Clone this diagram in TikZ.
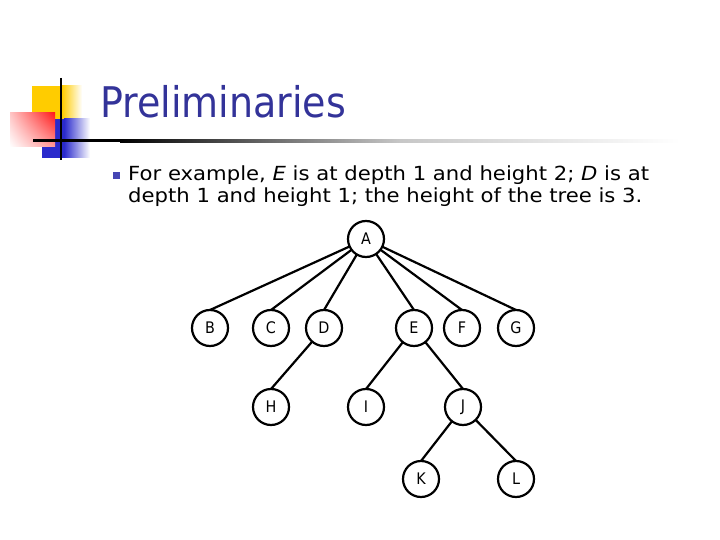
\documentclass[tikz,border=0pt]{standalone}
\usepackage{fontspec}
\setmainfont{DejaVu Sans}[FakeStretch=0.9]
\newfontfamily\bodyfont{DejaVu Sans}[FakeStretch=1.09]
\usetikzlibrary{positioning,shadings}
\definecolor{TitleNavy}{HTML}{333399}
\definecolor{BulletBlue}{HTML}{4646B4}
\definecolor{LogoYellow}{HTML}{FFCC00}
\definecolor{LogoRed}{HTML}{FF1A1A}
\definecolor{LogoBlue}{HTML}{2A2ACC}
\tikzset{
  treenode/.style={circle, draw=black, line width=2.2bp, minimum size=36bp, inner sep=0pt, outer sep=0pt, font=\fontsize{16}{16}\selectfont},
  treeline/.style={line width=2.2bp, draw=black},
  titletext/.style={anchor=base west, inner sep=0pt, text=TitleNavy, font=\fontsize{42.4}{42.4}\selectfont},
  bodytext/.style={anchor=base west, inner sep=0pt, font=\bodyfont\fontsize{19.5}{22}\selectfont},
  bulletsq/.style={fill=BulletBlue, minimum size=7bp, inner sep=0pt}
}

\begin{document}
\begin{tikzpicture}[x=1bp, y=-1bp]
  \useasboundingbox (0,0) rectangle (720,540);
  % logo squares
  \fill[LogoYellow] (32,86) rectangle (62,120);
  \shade[left color=LogoYellow, right color=white] (62,86) rectangle (82,120);
  \fill[LogoBlue] (42,119) rectangle (64,158);
  \shade[left color=LogoBlue, right color=white] (64,119) rectangle (90,158);
  \shade[upper left=LogoRed!25, upper right=LogoRed, lower left=white, lower right=LogoRed!45] (10,113) rectangle (55,147);
  \draw[line width=2.5bp] (61,78) -- (61,160);
  % title rule
  \fill[black] (33,139.5) rectangle (120,142.5);
  \shade[left color=black, right color=black!22] (120,139.5) rectangle (400,142.5);
  \shade[left color=black!22, right color=white] (400,139.5) rectangle (680,142.5);

  \node[titletext] (title) at (100,118) {Preliminaries};
  \node[bulletsq] (bullet) at (116,176) {};
  \node[bodytext] (line1) at (128,181) {For example, \textit{E} is at depth 1 and height 2; \textit{D} is at};
  \node[bodytext] (line2) at (128,203) {depth 1 and height 1; the height of the tree is 3.};

  % tree
  \node[treenode] (A) at (366,239) {A};
  \node[treenode] (B) at (210,328) {B};
  \node[treenode, right=25bp of B] (C) {C};
  \node[treenode, right=17bp of C] (D) {D};
  \node[treenode, right=54bp of D] (E) {E};
  \node[treenode, right=12bp of E] (F) {F};
  \node[treenode, right=18bp of F] (G) {G};
  \node[treenode, below=43bp of C] (H) {H};
  \node[treenode, right=59bp of H] (I) {I};
  \node[treenode, right=61bp of I] (J) {J};
  \node[treenode, below=36bp of J, xshift=-42bp] (K) {K};
  \node[treenode, right=59bp of K] (L) {L};

  \foreach \kid in {B,C,D,E,F,G}
    \draw[treeline] (A) -- (\kid.north);
  \draw[treeline] (D) -- (H.north);
  \draw[treeline] (E) -- (I.north);
  \draw[treeline] (E) -- (J.north);
  \draw[treeline] (J) -- (K.north);
  \draw[treeline] (J) -- (L.north);
\end{tikzpicture}
\end{document}
